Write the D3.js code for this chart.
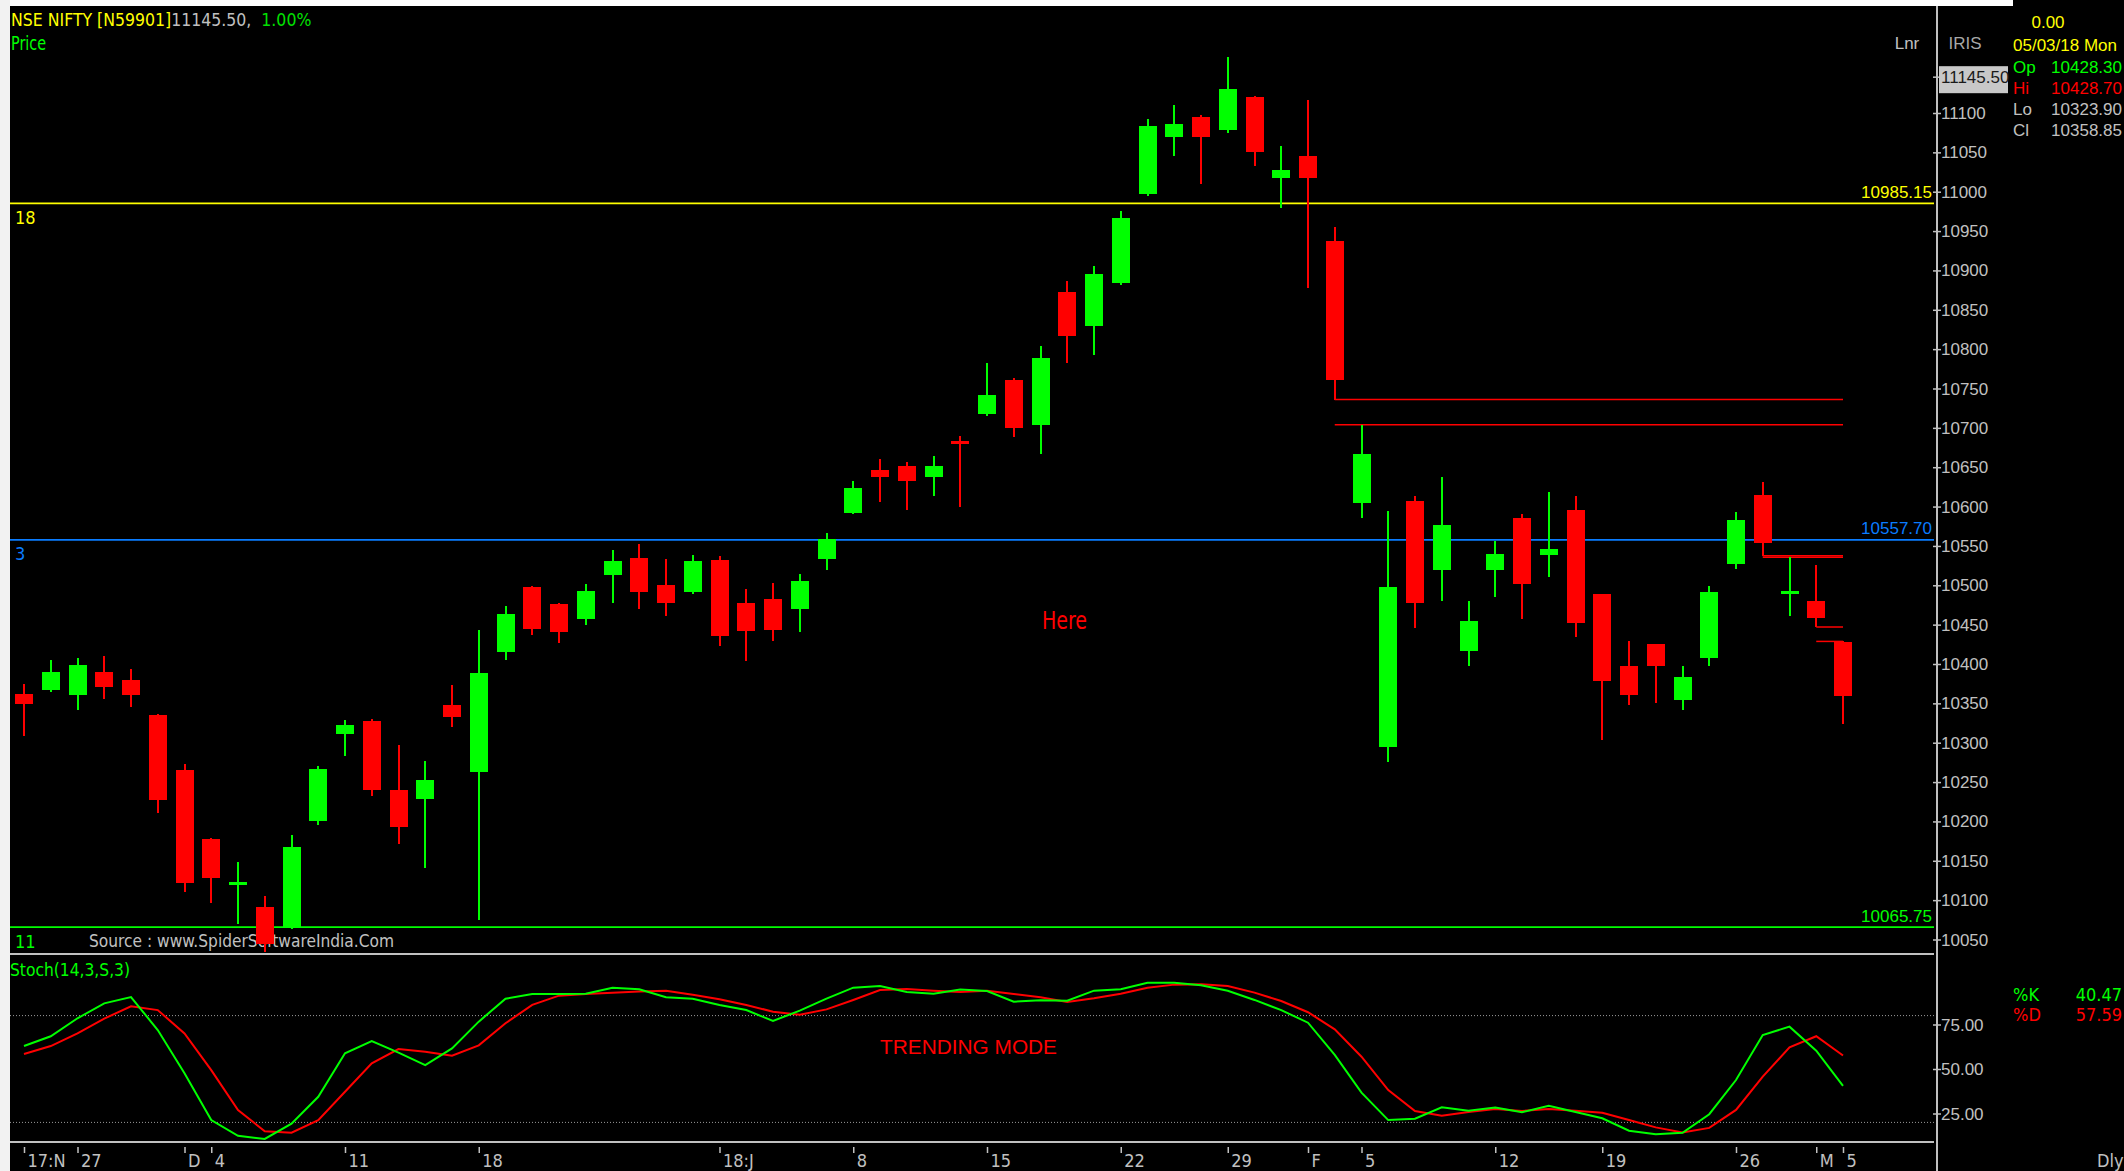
<!DOCTYPE html>
<html><head><meta charset="utf-8">
<script src="https://cdn.jsdelivr.net/npm/d3@7"></script>
<style>html,body{margin:0;padding:0;background:#000;overflow:hidden}</style>
</head><body><svg id="c" width="2124" height="1171"></svg>
<script>
// ---------------- DATA ----------------
const dates = ["2017-11-23","2017-11-24","2017-11-27","2017-11-28","2017-11-29","2017-11-30",
"2017-12-01","2017-12-04","2017-12-05","2017-12-06","2017-12-07","2017-12-08","2017-12-11","2017-12-12",
"2017-12-13","2017-12-14","2017-12-15","2017-12-18","2017-12-19","2017-12-20","2017-12-21","2017-12-22",
"2017-12-26","2017-12-27","2017-12-28","2017-12-29","2018-01-01","2018-01-02","2018-01-03","2018-01-04",
"2018-01-05","2018-01-08","2018-01-09","2018-01-10","2018-01-11","2018-01-12","2018-01-15","2018-01-16",
"2018-01-17","2018-01-18","2018-01-19","2018-01-22","2018-01-23","2018-01-24","2018-01-25","2018-01-29",
"2018-01-30","2018-01-31","2018-02-01","2018-02-02","2018-02-05","2018-02-06","2018-02-07","2018-02-08",
"2018-02-09","2018-02-12","2018-02-14","2018-02-15","2018-02-16","2018-02-19","2018-02-20","2018-02-21",
"2018-02-22","2018-02-23","2018-02-26","2018-02-27","2018-02-28","2018-03-01","2018-03-05"];

const open  = [10362,10367,10361,10390,10380,10335,10265,10178,10120,10091,10065,10200,10311,10327,10240,10228,10348,10263,10415,10498,10476,10457,10513,10535,10500,10492,10532,10478,10482,10470,10534,10592,10646,10652,10637,10682,10718,10761,10703,10873,10829,10884,10997,11069,11095,11079,11120,11018,11045,10938,10604,10295,10607,10519,10416,10519,10586,10538,10596,10489,10397,10426,10354,10408,10527,10615,10489,10480,10428.30];
const high  = [10375,10405,10408,10410,10394,10336,10273,10179,10149,10105,10183,10271,10329,10330,10297,10277,10373,10443,10474,10499,10477,10501,10545,10552,10534,10538,10537,10495,10503,10514,10566,10632,10660,10656,10664,10690,10783,10763,10804,10887,10906,10975,11092,11110,11098,11171,11121,11058,11117,10955,10704,10594,10614,10638,10480,10556,10591,10618,10613,10489,10429,10426,10397,10499,10593,10631,10536,10526,10428.70];
const low   = [10308,10364,10342,10356,10346,10211,10110,10097,10070,10034,10063,10195,10283,10232,10171,10141,10320,10075,10405,10437,10427,10449,10477,10470,10461,10489,10423,10404,10429,10441,10520,10591,10606,10596,10613,10600,10715,10688,10667,10782,10793,10882,10994,11046,11010,11075,11033,10979,10878,10736,10586,10276,10446,10480,10398,10485,10457,10511,10434,10303,10348,10350,10341,10397,10521,10537,10461,10447,10323.90];
const close = [10349,10390,10399,10371,10361,10227,10122,10128,10122,10044,10167,10266,10322,10240,10193,10252,10333,10389,10463,10444,10441,10493,10531,10491,10478,10531,10436,10442,10443,10505,10559,10624,10637,10632,10651,10681,10742,10700,10789,10817,10895,10966,11084,11086,11070,11130,11050,11028,11017,10761,10667,10498,10477,10577,10455,10540,10501,10546,10452,10378,10360,10397,10383,10491,10583,10554,10493,10458,10358.85];

const stochK = [62.9,68.4,78.5,86.9,90.4,71.9,47.6,21.3,12.5,10.7,19.3,34.4,58.8,65.7,59.2,52.2,61.6,76.6,89.5,92.1,92.1,92.3,95.7,94.8,90.3,89.5,86.0,83.1,77.0,82.8,89.5,95.7,96.6,93.3,92.3,94.6,93.8,87.8,88.6,88.4,94.0,94.8,98.5,98.5,97.0,94.0,88.8,83.1,76.0,57.9,36.7,21.3,22.1,28.5,26.6,28.3,25.7,29.4,25.8,22.3,15.3,13.3,14.2,24.6,43.8,69.1,73.8,60.3,40.47];
const stochD = [58.4,62.9,70.0,78.3,85.2,83.1,70.0,49.4,27.0,15.0,14.2,21.3,37.2,53.2,61.2,59.7,57.5,63.3,75.7,86.0,91.2,92.1,92.9,93.6,94.0,91.7,89.2,86.0,82.2,80.5,83.5,88.8,94.4,94.9,94.0,93.3,94.0,92.1,90.3,87.6,89.7,92.3,95.7,97.4,97.6,96.6,92.9,88.2,81.9,72.3,56.9,38.2,26.4,23.8,25.8,27.5,26.4,27.5,26.6,25.4,21.3,17.2,14.4,16.9,27.0,45.7,62.2,68.4,57.59];

const priceTicks = d3.range(10050, 11101, 50);
const stochTicks = [25, 50, 75];
const stochLevels = [80, 20];

const levelValues = [10985.15, 10557.70, 10065.75];
const levelCounts = ["18", "3", "11"];

// unfilled gap lines: start date and price, run to last bar
const gapStarts = ["2018-02-02","2018-02-02","2018-02-27","2018-02-27","2018-03-01","2018-03-01"];
const gapPrices = [10736, 10704, 10537.5, 10535.5, 10447, 10428.7];

const xLabelDates = ["2017-11-23","2017-11-27","2017-12-01","2017-12-04","2017-12-11","2017-12-18","2018-01-01","2018-01-08","2018-01-15","2018-01-22","2018-01-29","2018-02-01","2018-02-05","2018-02-12","2018-02-19","2018-02-26","2018-03-01","2018-03-05"];
const xLabelTexts = ["17:N","27","D","4","11","18","18:J","8","15","22","29","F","5","12","19","26","M","5"];

const infoDate = "05/03/18 Mon";
const infoLabels = ["Op","Hi","Lo","Cl"];
const infoValues = ["10428.30","10428.70","10323.90","10358.85"];
const lastPrice = 11145.50;
const changePct = "1.00%";

// ---------------- DRAW ----------------
const W = 2124, H = 1171;
const NARROW = "'Liberation Sans Narrow','Arial Narrow','DejaVu Sans Condensed',sans-serif";
const SANS = "'Liberation Sans',Arial,sans-serif";
const GRAY = "#c0c0c0", GREEN = "#00ff00", RED = "#ff0000", YEL = "#ffff00", BLUE = "#0a7cff";

const svg = d3.select("#c");
svg.append("rect").attr("width", W).attr("height", H).attr("fill", "#000");
// white frame strips
svg.append("rect").attr("x", 0).attr("y", 0).attr("width", 2013).attr("height", 6).attr("fill", "#fff");
svg.append("rect").attr("x", 0).attr("y", 0).attr("width", 10).attr("height", H).attr("fill", "#f2f2f2");

const PL = 10, PR = 1934, AX = 1937;
const x = d3.scalePoint().domain(dates).range([24, 1843]);
const yP = d3.scaleLinear().domain([10050, 11100]).range([939.5, 113]);
const yS = d3.scaleLinear().domain([0, 100]).range([1158, 980]);

function txt(g, x, y, s, o) {
  return g.append("text").attr("x", x).attr("y", y).text(s)
    .attr("fill", o.fill || GRAY).attr("font-family", o.family || SANS)
    .attr("font-size", o.size || 17).attr("text-anchor", o.anchor || "start")
    .attr("dominant-baseline", "central")
    .each(function(){ if (o.len) d3.select(this).attr("textLength", o.len).attr("lengthAdjust", "spacingAndGlyphs"); });
}

// clip for price panel
svg.append("clipPath").attr("id", "pclip").append("rect").attr("x", PL).attr("y", 6).attr("width", PR - PL).attr("height", 948);
const pg = svg.append("g").attr("clip-path", "url(#pclip)");

// source text (under candles)
txt(pg, 89, 940, "Source : www.SpiderSoftwareIndia.Com", {family: NARROW, size: 18, len: 305});

// level lines
const levelColors = [YEL, BLUE, GREEN];
levelValues.forEach((v, i) => {
  pg.append("line").attr("x1", PL).attr("x2", PR).attr("y1", yP(v)).attr("y2", yP(v))
    .attr("stroke", levelColors[i]).attr("stroke-width", 1.6);
  txt(svg, 1932, yP(v) - 11, v.toFixed(2), {fill: levelColors[i], anchor: "end"});
  txt(svg, 15, yP(v) + 14, levelCounts[i], {fill: levelColors[i], family: NARROW, size: 18});
});

// gap lines
const lastDate = dates[dates.length - 1];
gapPrices.forEach((p, i) => {
  pg.append("line").attr("x1", x(gapStarts[i])).attr("x2", x(lastDate))
    .attr("y1", yP(p)).attr("y2", yP(p)).attr("stroke", RED).attr("stroke-width", 1.5);
});

// candles
const cg = pg.append("g").attr("shape-rendering", "crispEdges");
const col = i => close[i] >= open[i] ? GREEN : RED;
cg.selectAll("line.w").data(dates).join("line").attr("class", "w")
  .attr("x1", d => x(d)).attr("x2", d => x(d))
  .attr("y1", (d, i) => yP(high[i])).attr("y2", (d, i) => yP(low[i]))
  .attr("stroke", (d, i) => col(i)).attr("stroke-width", 2);
cg.selectAll("rect.b").data(dates).join("rect").attr("class", "b")
  .attr("x", d => x(d) - 9).attr("width", 18)
  .attr("y", (d, i) => {
    const t = yP(Math.max(open[i], close[i])), b = yP(Math.min(open[i], close[i]));
    return (b - t) < 3 ? (t + b) / 2 - 1.5 : t;
  })
  .attr("height", (d, i) => Math.max(3, Math.abs(yP(open[i]) - yP(close[i]))))
  .attr("fill", (d, i) => col(i));

// Here text
txt(svg, 1042, 621, "Here", {fill: RED, family: NARROW, size: 24, len: 45});

// panel separators
[954, 1142].forEach(y => svg.append("line").attr("x1", PL).attr("x2", PR).attr("y1", y).attr("y2", y)
  .attr("stroke", GRAY).attr("stroke-width", 2));

// axis vertical line
svg.append("line").attr("x1", AX).attr("x2", AX).attr("y1", 6).attr("y2", H)
  .attr("stroke", GRAY).attr("stroke-width", 2);

// price axis
const pa = svg.append("g").attr("transform", `translate(${AX},0)`)
  .call(d3.axisRight(yP).tickValues(priceTicks).tickSize(4).tickFormat(d3.format("d")));
pa.select(".domain").remove();
pa.selectAll(".tick line").attr("x1", -4).attr("x2", 4).attr("stroke", GRAY).attr("stroke-width", 1.5);
pa.selectAll(".tick text").attr("x", 4).attr("dy", null).attr("dominant-baseline", "central")
  .attr("fill", GRAY).attr("font-family", SANS).attr("font-size", 17).attr("text-anchor", "start");

// last price highlight
svg.append("line").attr("x1", AX - 4).attr("x2", AX + 4).attr("y1", yP(lastPrice)).attr("y2", yP(lastPrice)).attr("stroke", GRAY).attr("stroke-width", 1.5);
svg.append("rect").attr("x", 1939).attr("y", yP(lastPrice) - 11).attr("width", 69).attr("height", 27).attr("fill", "#c8c8c8");
txt(svg, 1941, yP(lastPrice), d3.format(".2f")(lastPrice), {fill: "#1a1a1a"});

// stoch panel
stochLevels.forEach(v => svg.append("line").attr("x1", PL).attr("x2", PR).attr("y1", yS(v)).attr("y2", yS(v))
  .attr("stroke", "#9a9a9a").attr("stroke-width", 1).attr("stroke-dasharray", "1,2"));
const sa = svg.append("g").attr("transform", `translate(${AX},0)`)
  .call(d3.axisRight(yS).tickValues(stochTicks).tickSize(4).tickFormat(d3.format(".2f")));
sa.select(".domain").remove();
sa.selectAll(".tick line").attr("x1", -4).attr("x2", 4).attr("stroke", GRAY).attr("stroke-width", 1.5);
sa.selectAll(".tick text").attr("x", 4).attr("dy", null).attr("dominant-baseline", "central")
  .attr("fill", GRAY).attr("font-family", SANS).attr("font-size", 17).attr("text-anchor", "start");

const sline = arr => d3.line().x((d, i) => x(dates[i])).y(d => yS(d))(arr);
svg.append("path").attr("d", sline(stochD)).attr("fill", "none").attr("stroke", RED).attr("stroke-width", 2);
svg.append("path").attr("d", sline(stochK)).attr("fill", "none").attr("stroke", GREEN).attr("stroke-width", 2);

txt(svg, 10, 969, "Stoch(14,3,S,3)", {fill: GREEN, family: NARROW, size: 18, len: 120});
txt(svg, 880, 1046, "TRENDING MODE", {fill: RED, size: 21, len: 177});

txt(svg, 2013, 994, "%K", {fill: GREEN, family: NARROW, size: 18});
txt(svg, 2122, 994, stochK[stochK.length - 1].toFixed(2), {fill: GREEN, family: NARROW, size: 18, anchor: "end"});
txt(svg, 2013, 1014, "%D", {fill: RED, family: NARROW, size: 18});
txt(svg, 2122, 1014, stochD[stochD.length - 1].toFixed(2), {fill: RED, family: NARROW, size: 18, anchor: "end"});

// x axis
const xa = svg.append("g").attr("transform", "translate(0,1147)")
  .call(d3.axisBottom(x).tickValues(xLabelDates).tickSize(6).tickFormat((d, i) => xLabelTexts[i]));
xa.select(".domain").remove();
xa.selectAll(".tick line").attr("stroke", GRAY).attr("stroke-width", 1.5);
xa.selectAll(".tick text").attr("x", 3).attr("y", 13).attr("dy", null).attr("dominant-baseline", "central")
  .attr("text-anchor", "start").attr("fill", GRAY).attr("font-family", NARROW).attr("font-size", 18);
txt(svg, 2097, 1160, "Dly", {family: NARROW, size: 18});

// header (single text element with coloured parts)
const hdr = svg.append("text").attr("x", 11).attr("y", 20).attr("dominant-baseline", "central")
  .attr("font-family", NARROW).attr("font-size", 17.5);
hdr.append("tspan").attr("fill", YEL).text("NSE NIFTY [N59901]");
hdr.append("tspan").attr("fill", GRAY).text(d3.format(".2f")(lastPrice) + ",");
hdr.append("tspan").attr("fill", "#00e000").attr("dx", 10).text(changePct);
txt(svg, 11, 43, "Price", {fill: GREEN, family: NARROW, size: 19, len: 35});

txt(svg, 1907, 43, "Lnr", {anchor: "middle", size: 17});
txt(svg, 1965, 43, "IRIS", {anchor: "middle", size: 17, fill: "#a8a8a8"});

// info panel
txt(svg, 2048, 22, "0.00", {fill: YEL, anchor: "middle"});
txt(svg, 2013, 45, infoDate, {fill: YEL});
const infoColors = [GREEN, RED, GRAY, GRAY];
infoLabels.forEach((l, i) => {
  txt(svg, 2013, 67 + i * 21.3, l, {fill: infoColors[i]});
  txt(svg, 2122, 67 + i * 21.3, infoValues[i], {fill: infoColors[i], anchor: "end"});
});
</script></body></html>
